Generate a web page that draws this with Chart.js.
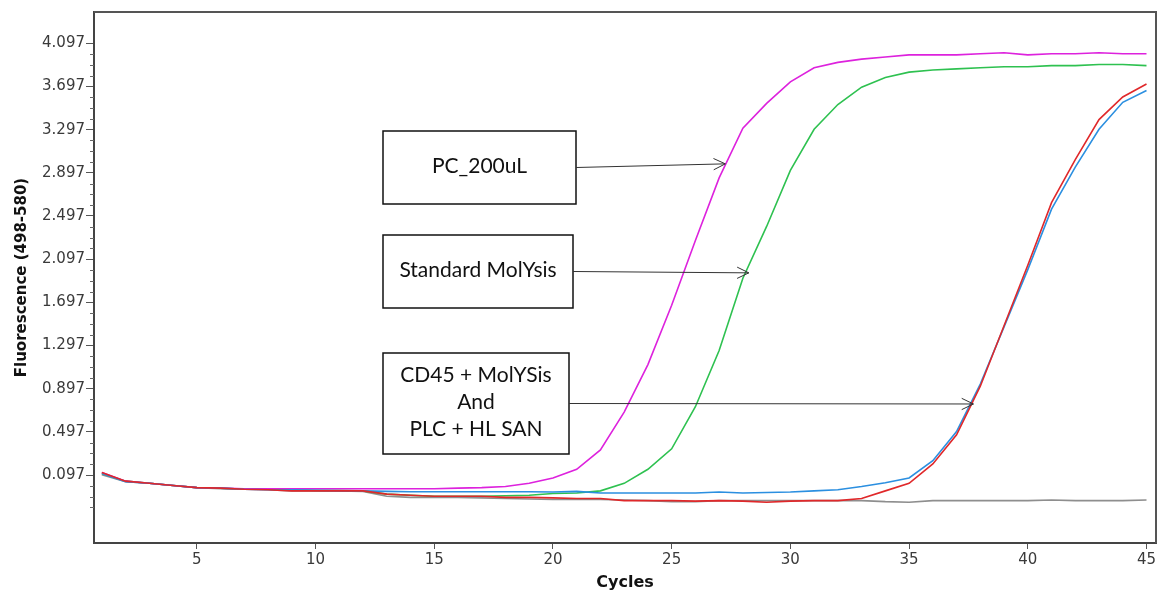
<!DOCTYPE html>
<html>
<head>
<meta charset="utf-8">
<title>Amplification curves</title>
<script src="https://cdn.jsdelivr.net/npm/chart.js@4.4.0/dist/chart.umd.min.js"></script>
<style>
  html, body { margin: 0; padding: 0; background: #fff; }
  #wrap { width: 1165px; height: 597px; }
</style>
</head>
<body>
<div id="wrap"><canvas id="chart" width="1165" height="597"></canvas></div>
<script>
// cycle numbers
const cycles = [1,2,3,4,5,6,7,8,9,10,11,12,13,14,15,16,17,18,19,20,21,22,23,24,25,26,27,28,29,30,31,32,33,34,35,36,37,38,39,40,41,42,43,44,45]

// fluorescence (498-580) per cycle
const pc200 = [0.12,0.04,0.02,0.0,-0.02,-0.025,-0.03,-0.03,-0.03,-0.03,-0.03,-0.03,-0.03,-0.03,-0.03,-0.025,-0.02,-0.01,0.02,0.07,0.15,0.33,0.68,1.12,1.67,2.27,2.85,3.31,3.54,3.74,3.87,3.92,3.95,3.97,3.99,3.99,3.99,4.0,4.01,3.99,4.0,4.0,4.01,4.0,4.0]
const standardMolysis = [0.11,0.04,0.02,0.0,-0.02,-0.025,-0.035,-0.035,-0.04,-0.045,-0.045,-0.05,-0.08,-0.09,-0.1,-0.1,-0.1,-0.095,-0.09,-0.075,-0.07,-0.05,0.02,0.15,0.34,0.73,1.25,1.92,2.4,2.92,3.3,3.53,3.69,3.78,3.83,3.85,3.86,3.87,3.88,3.88,3.89,3.89,3.9,3.9,3.89]
const cd45Molysis = [0.12,0.04,0.02,0.0,-0.02,-0.025,-0.035,-0.04,-0.05,-0.05,-0.05,-0.05,-0.08,-0.09,-0.1,-0.1,-0.1,-0.11,-0.11,-0.115,-0.12,-0.12,-0.14,-0.14,-0.14,-0.145,-0.14,-0.145,-0.155,-0.145,-0.14,-0.14,-0.12,-0.05,0.02,0.2,0.47,0.92,1.48,2.04,2.62,3.02,3.39,3.6,3.72]
const plcHlSan = [0.11,0.035,0.02,0.0,-0.02,-0.025,-0.035,-0.04,-0.04,-0.045,-0.05,-0.05,-0.055,-0.058,-0.058,-0.058,-0.058,-0.058,-0.058,-0.06,-0.055,-0.07,-0.07,-0.07,-0.07,-0.07,-0.06,-0.07,-0.065,-0.06,-0.05,-0.04,-0.01,0.025,0.07,0.23,0.5,0.94,1.47,2.0,2.56,2.95,3.3,3.55,3.66]
const ntc = [0.1,0.035,0.02,0.0,-0.02,-0.03,-0.035,-0.04,-0.05,-0.05,-0.05,-0.055,-0.1,-0.11,-0.11,-0.11,-0.115,-0.12,-0.125,-0.13,-0.13,-0.13,-0.135,-0.14,-0.15,-0.15,-0.14,-0.14,-0.14,-0.14,-0.14,-0.14,-0.14,-0.15,-0.155,-0.14,-0.14,-0.14,-0.14,-0.14,-0.135,-0.14,-0.14,-0.14,-0.135]

// axis ticks
const xTicks = [5,10,15,20,25,30,35,40,45]
const yLabels = ['0.097','0.497','0.897','1.297','1.697','2.097','2.497','2.897','3.297','3.697','4.097']
const yMinorStart = -0.203

const yMajor = yLabels.map(Number)
const isMajor = v => yMajor.some(m => Math.abs(m - v) < 1e-6)

const yAllTicks = []
for (let i = 0; ; i++) {
  const v = +(yMinorStart + i * 0.1).toFixed(3)
  if (v > 4.1) break
  yAllTicks.push(v)
}

const pairs = arr => cycles.map((c, i) => ({ x: c, y: arr[i] }))

const line = (data, color) => ({
  data: pairs(data),
  borderColor: color,
  borderWidth: 1.6,
  pointRadius: 0,
  tension: 0,
  fill: false,
})

// callout boxes; arrow tips sit on the curves (cycle, fluorescence)
const callouts = [
  { box: [383, 131, 193, 73], lines: ['PC_200uL'], tip: [27.26, 2.98] },
  { box: [383, 235, 190, 73], lines: ['Standard MolYsis'], tip: [28.25, 1.97] },
  { box: [383, 353, 186, 101], lines: ['CD45 + MolYSis', 'And', 'PLC + HL SAN'], tip: [37.71, 0.755] },
]

const framePlugin = {
  id: 'frame',
  afterDraw(chart) {
    const { ctx, chartArea: a, scales } = chart
    ctx.save()
    // top and right edges of the plot frame
    ctx.strokeStyle = '#555'
    ctx.lineWidth = 2
    ctx.beginPath()
    ctx.moveTo(a.left, a.top)
    ctx.lineTo(a.right, a.top)
    ctx.lineTo(a.right, a.bottom)
    ctx.stroke()

    // short minor ticks on y
    ctx.strokeStyle = '#666'
    ctx.lineWidth = 1
    yAllTicks.filter(v => !isMajor(v)).forEach(v => {
      const py = Math.round(scales.y.getPixelForValue(v)) + 0.5
      ctx.beginPath()
      ctx.moveTo(a.left - 4, py)
      ctx.lineTo(a.left, py)
      ctx.stroke()
    })

    // callouts
    ctx.font = '21px Lato'
    ctx.textAlign = 'center'
    ctx.textBaseline = 'middle'
    callouts.forEach(c => {
      const [bx, by, bw, bh] = c.box
      ctx.strokeStyle = '#111'
      ctx.lineWidth = 1.5
      ctx.strokeRect(bx, by, bw, bh)
      ctx.fillStyle = '#111'
      const lh = c.lines.length > 1 ? 27 : 0
      const cy = by + bh / 2 - (c.lines.length - 1) * lh / 2 - 1
      c.lines.forEach((t, i) => ctx.fillText(t, bx + bw / 2, cy + i * lh))

      const tx = scales.x.getPixelForValue(c.tip[0])
      const ty = scales.y.getPixelForValue(c.tip[1])
      const sx = bx + bw
      const sy = by + bh / 2
      ctx.strokeStyle = '#333'
      ctx.lineWidth = 1
      ctx.beginPath()
      ctx.moveTo(sx, sy)
      ctx.lineTo(tx, ty)
      ctx.stroke()
      const ang = Math.atan2(ty - sy, tx - sx)
      const len = 13, spread = 0.45
      ctx.beginPath()
      ctx.moveTo(tx - len * Math.cos(ang - spread), ty - len * Math.sin(ang - spread))
      ctx.lineTo(tx, ty)
      ctx.lineTo(tx - len * Math.cos(ang + spread), ty - len * Math.sin(ang + spread))
      ctx.stroke()
    })
    ctx.restore()
  }
}

const tickFont = { family: 'DejaVu Sans', size: 15 }

const chart = new Chart(document.getElementById('chart'), {
  type: 'line',
  data: {
    datasets: [
      line(cd45Molysis, '#e0282a'),
      line(plcHlSan, '#2b8fe0'),
      line(pc200, '#dd22dd'),
      line(standardMolysis, '#2ec150'),
      line(ntc, '#8e8e8e'),
    ]
  },
  options: {
    responsive: false,
    animation: false,
    devicePixelRatio: 1,
    layout: { padding: { top: 12, right: 9, left: 0, bottom: 0 } },
    plugins: {
      legend: { display: false },
      tooltip: { enabled: false },
    },
    scales: {
      x: {
        type: 'linear',
        min: 0.67,
        max: 45.4,
        afterBuildTicks: s => { s.ticks = xTicks.map(v => ({ value: v })) },
        afterFit: s => { s.height = 54 },
        ticks: { font: tickFont, color: '#3a3a3a', padding: 2, maxRotation: 0, autoSkip: false },
        grid: { drawOnChartArea: false, tickLength: 6, tickColor: '#555' },
        border: { color: '#444', width: 2 },
        title: {
          display: true,
          text: 'Cycles',
          color: '#111',
          font: { family: 'DejaVu Sans', size: 16, weight: 'bold' },
          padding: { top: 0, bottom: 5 },
        },
      },
      y: {
        type: 'linear',
        min: -0.533,
        max: 4.387,
        afterBuildTicks: s => { s.ticks = yAllTicks.map(v => ({ value: v })) },
        afterFit: s => { s.width = 94 },
        ticks: {
          font: tickFont,
          color: '#3a3a3a',
          padding: 1,
          autoSkip: false,
          callback: v => {
            const i = yMajor.findIndex(m => Math.abs(m - v) < 1e-6)
            return i >= 0 ? yLabels[i] : ''
          },
        },
        grid: {
          drawOnChartArea: false,
          tickLength: 8,
          tickColor: c => isMajor(c.tick.value) ? '#555' : 'rgba(0,0,0,0)',
        },
        border: { color: '#444', width: 2 },
        title: {
          display: true,
          text: 'Fluorescence (498-580)',
          color: '#111',
          font: { family: 'DejaVu Sans', size: 15, weight: 'bold' },
          padding: { top: 13, bottom: 0 },
        },
      },
    },
  },
  plugins: [framePlugin],
})
</script>
</body>
</html>
